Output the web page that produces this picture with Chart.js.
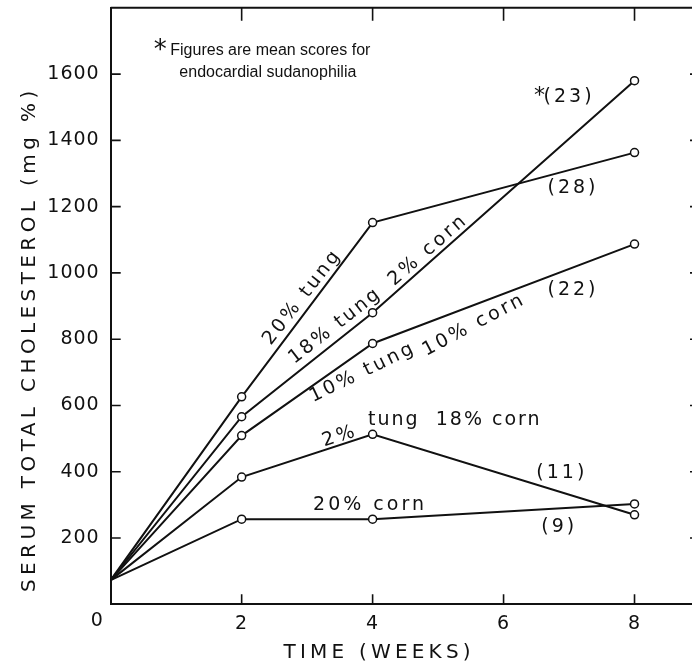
<!DOCTYPE html>
<html><head><meta charset="utf-8">
<script src="https://cdn.jsdelivr.net/npm/chart.js@4"></script>
<style>html,body{margin:0;padding:0;background:#fff;overflow:hidden;width:692px;height:669px}</style>
</head><body>
<canvas id="c" width="720" height="669" style="width:720px;height:669px;display:block"></canvas>
<script>
// ---- data ----
const weeks = [0, 2, 4, 8];
const tung20 = [73, 626, 1152, 1363];
const tung18corn2 = [73, 566, 880, 1580];
const tung10corn10 = [73, 509, 787, 1087];
const tung2corn18 = [73, 384, 513, 270];
const corn20 = [73, 257, 257, 303];
const xTickValues = [0, 2, 4, 6, 8];
const yTickValues = [200, 400, 600, 800, 1000, 1200, 1400, 1600];
const xTitle = 'TIME (WEEKS)';
const yTitle = 'SERUM TOTAL CHOLESTEROL (mg %)';
const sudanophilia = ['(28)', '(23)', '(22)', '(11)', '(9)'];

const INK = '#111';
const FONT = '"DejaVu Sans", sans-serif';
const NOTEFONT = '"Liberation Sans", Arial, sans-serif';

function series(vals) {
  return {
    data: weeks.map((w, i) => ({x: w, y: vals[i]})),
    borderColor: INK, borderWidth: 2, tension: 0,
    pointRadius: weeks.map(w => w === 0 ? 0 : 4),
    pointBackgroundColor: '#fff', pointBorderColor: INK, pointBorderWidth: 1.5,
    fill: false
  };
}

// annotation text, positioned in data units
const notes = [
  {t: '20% tung', x: 2.93, y: 927, a: -52},
  {t: '18% tung', x: 3.43, y: 840, a: -38, sp: 2.5},
  {t: '2% corn', x: 4.85, y: 1069, a: -41},
  {t: '10% tung', x: 3.85, y: 700, a: -26},
  {t: '10% corn', x: 5.55, y: 843, a: -28},
  {t: '2%', x: 3.50, y: 507, a: -18},
  {t: 'tung  18% corn', x: 3.93, y: 556, a: 0, align: 'left', sp: 2},
  {t: '20% corn', x: 3.96, y: 300, a: 0},
  {t: sudanophilia[0], x: 7.06, y: 1256, a: 0},
  {t: sudanophilia[1], x: 7.0, y: 1531, a: 0},
  {t: sudanophilia[2], x: 7.06, y: 948, a: 0},
  {t: sudanophilia[3], x: 6.89, y: 396, a: 0},
  {t: sudanophilia[4], x: 6.85, y: 233, a: 0},
  {t: '*', x: 6.57, y: 1532, a: 0, size: 22},
  {t: '*', x: 0.78, y: 1670, a: 0, size: 26},
  {t: 'Figures are mean scores for', x: 0.91, y: 1672, a: 0, align: 'left', size: 16, font: NOTEFONT, sp: 0},
  {t: 'endocardial sudanophilia', x: 2.4, y: 1604, a: 0, size: 16, font: NOTEFONT, sp: 0}
];

const frame = {
  id: 'frame',
  beforeDraw(chart) { chart.ctx.letterSpacing = '1px'; },
  beforeDatasetsDraw(chart) {
    const {ctx, chartArea: ca, scales: {x, y}} = chart;
    ctx.save();
    ctx.strokeStyle = INK; ctx.lineWidth = 2;
    ctx.beginPath();
    ctx.moveTo(ca.left, ca.top); ctx.lineTo(ca.right, ca.top);
    ctx.stroke();
    ctx.lineWidth = 1.6;
    ctx.beginPath();
    xTickValues.filter(v => v > 0).forEach(v => {
      const px = x.getPixelForValue(v);
      ctx.moveTo(px, ca.bottom); ctx.lineTo(px, ca.bottom - 10);
      ctx.moveTo(px, ca.top); ctx.lineTo(px, ca.top + 13);
    });
    yTickValues.forEach(v => {
      const py = y.getPixelForValue(v);
      ctx.moveTo(ca.left, py); ctx.lineTo(ca.left + 10, py);
      ctx.moveTo(ca.right, py); ctx.lineTo(ca.right - 10, py);
    });
    ctx.stroke();
    ctx.restore();
  },
  afterDatasetsDraw(chart) {
    const {ctx, chartArea: ca, scales: {x, y}} = chart;
    ctx.save();
    ctx.fillStyle = INK;
    notes.forEach(n => {
      ctx.save();
      ctx.letterSpacing = (n.sp !== undefined ? n.sp : 3) + 'px';
      ctx.font = (n.size || 19) + 'px ' + (n.font || FONT);
      ctx.textAlign = n.align || 'center';
      ctx.textBaseline = 'middle';
      ctx.translate(x.getPixelForValue(n.x), y.getPixelForValue(n.y));
      ctx.rotate(n.a * Math.PI / 180);
      ctx.fillText(n.t, 0, 0);
      ctx.restore();
    });
    // corner zero
    ctx.letterSpacing = '0px';
    ctx.font = '19px ' + FONT;
    ctx.textAlign = 'center'; ctx.textBaseline = 'middle';
    ctx.fillText('0', ca.left - 14, ca.bottom + 17);
    // axis titles
    ctx.letterSpacing = '4.2px';
    ctx.font = '20px ' + FONT;
    ctx.fillText(xTitle, x.getPixelForValue(4.1), ca.bottom + 48);
    ctx.save();
    ctx.letterSpacing = '4.4px';
    ctx.translate(30, y.getPixelForValue(800));
    ctx.rotate(-Math.PI / 2);
    ctx.fillText(yTitle, 0, 0);
    ctx.restore();
    ctx.restore();
  }
};

new Chart(document.getElementById('c'), {
  type: 'line',
  data: {datasets: [series(tung20), series(tung18corn2), series(tung10corn10), series(tung2corn18), series(corn20)]},
  options: {
    responsive: false, animation: false,
    layout: {padding: {top: 7.8, right: 20, left: 0, bottom: 0}},
    plugins: {legend: {display: false}, tooltip: {enabled: false}},
    scales: {
      x: {
        type: 'linear', min: 0, max: 9,
        afterBuildTicks: s => { s.ticks = xTickValues.map(v => ({value: v})); },
        afterFit: s => { s.height = 64.7; s.paddingLeft = 0; s.paddingRight = 0; },
        grid: {display: false, drawTicks: false},
        border: {display: true, color: INK, width: 2},
        ticks: {color: INK, font: {family: FONT, size: 19}, padding: 8, maxRotation: 0,
          callback: v => v === 0 ? '' : String(v)}
      },
      y: {
        type: 'linear', min: 0, max: 1800,
        afterBuildTicks: s => { s.ticks = yTickValues.map(v => ({value: v})); },
        afterFit: s => { s.width = 110.7; s.paddingTop = 0; s.paddingBottom = 0; },
        grid: {display: false, drawTicks: false},
        border: {display: true, color: INK, width: 2},
        ticks: {color: INK, font: {family: FONT, size: 19}, padding: 11, callback: v => String(v)}
      }
    }
  },
  plugins: [frame]
});
</script>
</body></html>
